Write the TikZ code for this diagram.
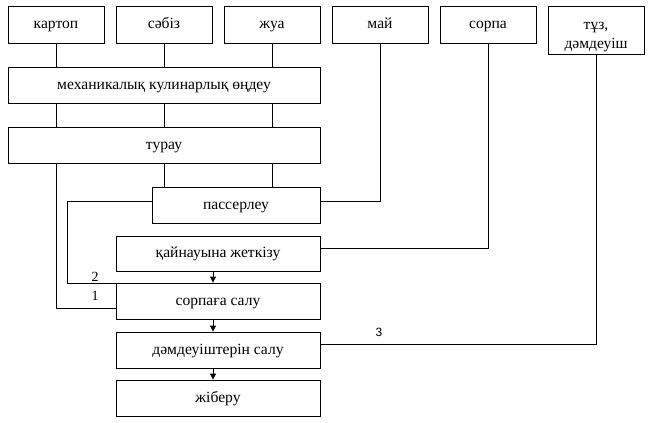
\documentclass[tikz,border=0pt]{standalone}
\usepackage{fontspec}
\setmainfont{Liberation Serif}
\newfontfamily\numfont{Liberation Sans}
\usetikzlibrary{arrows.meta}
\begin{document}
\begin{tikzpicture}[x=1pt,y=-1pt,
  boxbase/.style={draw,line width=0.8pt,inner sep=0pt,align=center,font=\fontsize{15.6}{18}\selectfont},
  box/.style={boxbase,text height=0.88em,text depth=0.05em},
  conn/.style={line width=0.8pt},
  arr/.style={line width=0.8pt,-{Triangle[length=6pt,width=6pt]}},
  lbl/.style={inner sep=0pt,font=\fontsize{14}{16}\selectfont}]
\useasboundingbox (0,0) rectangle (659,423);
% top inputs
\node[box,minimum width=96pt,minimum height=37pt] (kartop) at (56,24.5) {картоп};
\node[box,minimum width=96pt,minimum height=37pt] (sabiz) at (164,24.5) {сәбіз};
\node[box,minimum width=96pt,minimum height=37pt] (zhua) at (272,24.5) {жуа};
\node[box,minimum width=96pt,minimum height=37pt] (mai) at (380,24.5) {май};
\node[box,minimum width=96pt,minimum height=37pt] (sorpa) at (488,24.5) {сорпа};
\node[boxbase,minimum width=96pt,minimum height=48pt,font=\fontsize{15.5}{19}\selectfont] (tuz) at (596,30) {\rule{0pt}{21pt}тұз,\\дәмдеуіш};
% process
\node[box,minimum width=312pt,minimum height=36pt] (mech) at (164,85) {механикалық кулинарлық өңдеу};
\node[box,minimum width=312pt,minimum height=36pt] (turau) at (164,145) {турау};
\node[box,minimum width=168pt,minimum height=36pt] (passer) at (236,205) {пассерлеу};
\node[box,minimum width=204pt,minimum height=35pt] (qain) at (218,253.5) {қайнауына жеткізу};
\node[box,minimum width=204pt,minimum height=36pt] (sorpaga) at (218,301) {сорпаға салу};
\node[box,minimum width=204pt,minimum height=36pt] (damdeu) at (218,350) {дәмдеуіштерін салу};
\node[box,minimum width=204pt,minimum height=36pt] (zhiberu) at (218,398) {жіберу};
% connectors top -> mech -> turau
\foreach \n in {kartop,sabiz,zhua}{
  \draw[conn] (\n.south) -- (\n.south |- mech.north);
  \draw[conn] (\n.south |- mech.south) -- (\n.south |- turau.north);
}
\draw[conn] (sabiz.south |- turau.south) -- (sabiz.south |- passer.north);
\draw[conn] (zhua.south |- turau.south) -- (zhua.south |- passer.north);
% route 1
\coordinate (in1) at ([yshift=-7pt]sorpaga.west);
\draw[conn] (kartop.south |- turau.south) |- (in1);
% route 2
\coordinate (out2) at ([yshift=4pt]passer.west);
\coordinate (in2) at ([yshift=-1pt]sorpaga.north west);
\draw[conn] (out2) -- ++(-84,0) |- (in2);
\node[lbl] (l2) at (95,277) {2};
\node[lbl] (l1) at (95,296) {1};
% mai -> passer
\coordinate (inmai) at ([yshift=4pt]passer.east);
\draw[conn] (mai.south) |- (inmai);
% sorpa -> qain
\coordinate (insorpa) at ([yshift=5.5pt]qain.east);
\draw[conn] (sorpa.south) |- (insorpa);
% tuz -> damdeu
\coordinate (intuz) at ([yshift=6pt]damdeu.east);
\draw[conn] (tuz.south) |- (intuz);
\node[inner sep=0pt,font=\numfont\fontsize{12}{13}\selectfont] (l3) at (379,332) {3};
% vertical arrows
\draw[arr] ([xshift=-5pt]qain.south) -- ([xshift=-5pt]sorpaga.north);
\draw[arr] ([xshift=-5pt]sorpaga.south) -- ([xshift=-5pt]damdeu.north);
\draw[arr] ([xshift=-5pt]damdeu.south) -- ([xshift=-5pt]zhiberu.north);
\end{tikzpicture}
\end{document}
